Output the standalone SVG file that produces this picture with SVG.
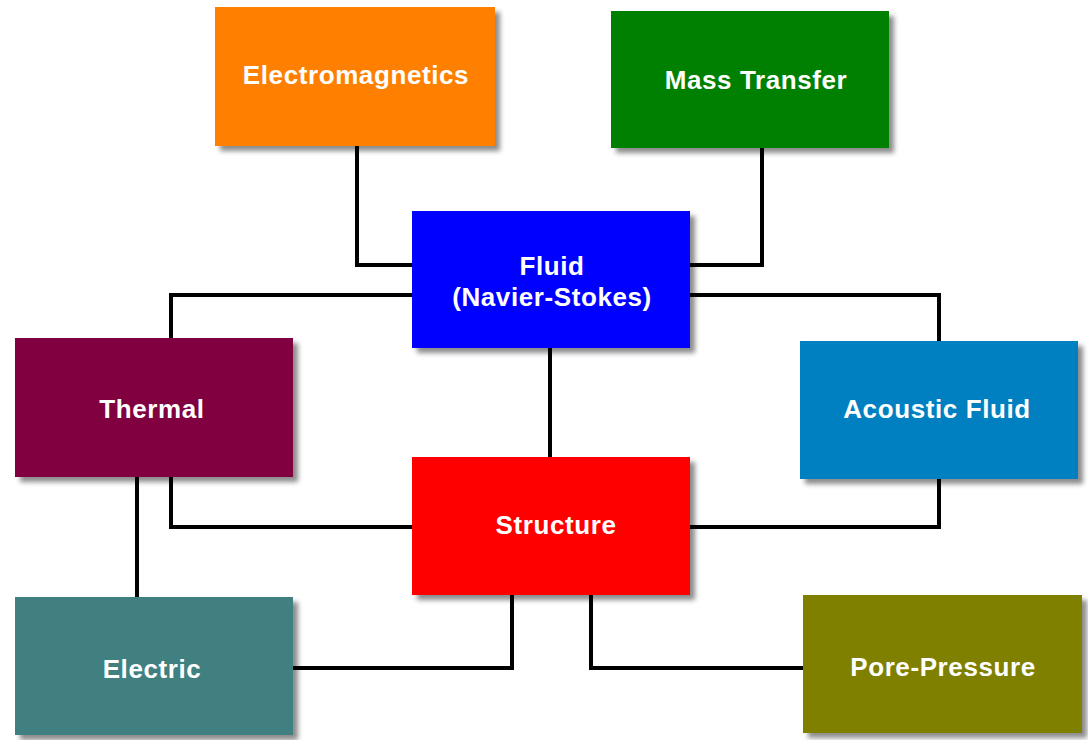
<svg xmlns="http://www.w3.org/2000/svg" width="1088" height="740" viewBox="0 0 1088 740">
<defs>
<filter id="sh" x="-10%" y="-10%" width="130%" height="130%">
<feDropShadow dx="5" dy="5" stdDeviation="2.5" flood-color="#000" flood-opacity="0.45"/>
</filter>
<style>
.box{filter:url(#sh);}
.lbl{font-family:"Liberation Sans",Arial,sans-serif;font-weight:bold;font-size:26px;fill:#fff;text-anchor:middle;letter-spacing:0.6px;}
.wire{fill:none;stroke:#000;stroke-width:4;stroke-linejoin:miter;}
</style>
</defs>
<rect width="1088" height="740" fill="#fff"/>
<g id="connectors">
<polyline class="wire" points="357,146 357,265 412,265"/>
<polyline class="wire" points="762,148 762,265 690,265"/>
<polyline class="wire" points="412,295 171,295 171,338"/>
<polyline class="wire" points="690,295 939,295 939,341"/>
<polyline class="wire" points="550,348 550,457"/>
<polyline class="wire" points="171,477 171,527 412,527"/>
<polyline class="wire" points="939,479 939,527 690,527"/>
<polyline class="wire" points="137,477 137,597"/>
<polyline class="wire" points="512,595 512,668 293,668"/>
<polyline class="wire" points="591,595 591,668 803,668"/>
</g>
<g id="electromagnetics"><rect class="box" x="215" y="7" width="280" height="139" fill="#FF8000"/><text class="lbl" x="356" y="84">Electromagnetics</text></g>
<g id="mass-transfer"><rect class="box" x="611" y="11" width="278" height="137" fill="#008000"/><text class="lbl" x="756" y="89">Mass Transfer</text></g>
<g id="fluid"><rect class="box" x="412" y="211" width="278" height="137" fill="#0000FF"/><text class="lbl" x="552" y="275">Fluid</text><text class="lbl" x="552" y="306">(Navier-Stokes)</text></g>
<g id="thermal"><rect class="box" x="15" y="338" width="278" height="139" fill="#800040"/><text class="lbl" x="152" y="418">Thermal</text></g>
<g id="acoustic-fluid"><rect class="box" x="800" y="341" width="278" height="138" fill="#0080C0"/><text class="lbl" x="937" y="418">Acoustic Fluid</text></g>
<g id="structure"><rect class="box" x="412" y="457" width="278" height="138" fill="#FF0000"/><text class="lbl" x="556" y="534">Structure</text></g>
<g id="electric"><rect class="box" x="15" y="597" width="278" height="138" fill="#408080"/><text class="lbl" x="152" y="678">Electric</text></g>
<g id="pore-pressure"><rect class="box" x="803" y="595" width="279" height="138" fill="#808000"/><text class="lbl" x="943" y="676">Pore-Pressure</text></g>
</svg>
